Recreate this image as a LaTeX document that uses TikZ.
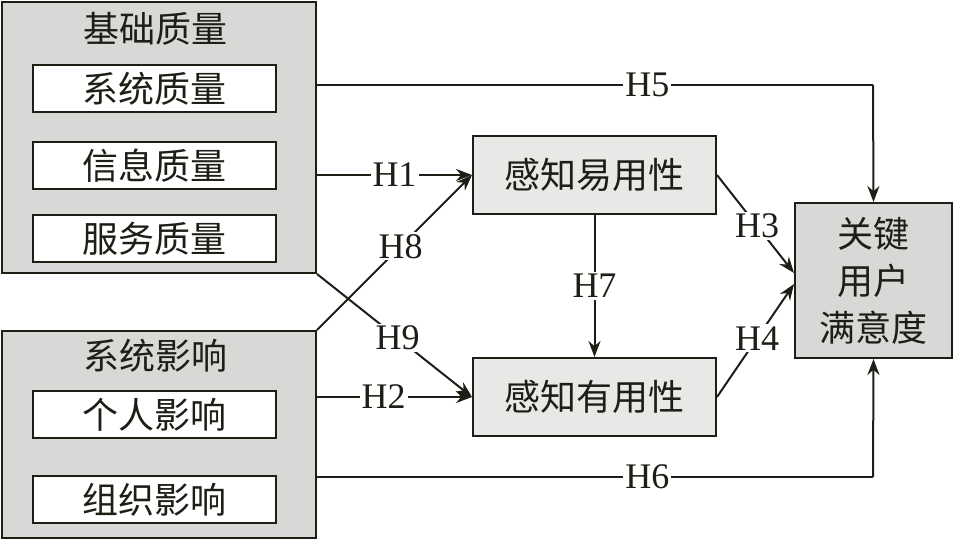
\documentclass[tikz,border=0pt]{standalone}
\usepackage{fontspec}
\setmainfont{Liberation Serif}
\newfontfamily\cjk{Noto Sans CJK SC}
\usetikzlibrary{arrows.meta}
\definecolor{grayA}{RGB}{216,216,214}
\definecolor{grayB}{RGB}{232,232,230}
\definecolor{linec}{RGB}{30,30,22}
\begin{document}
\begin{tikzpicture}[x=1pt,y=-1pt,
  outer/.style={draw=linec, line width=2pt, fill=grayA, minimum width=314pt, inner sep=0pt},
  inner/.style={draw=linec, line width=2pt, fill=white, minimum width=243pt, minimum height=47pt, inner sep=0pt, font=\fontsize{36}{40}\selectfont\cjk, text=linec},
  ttl/.style={inner sep=0pt, font=\fontsize{36}{40}\selectfont\cjk, text=linec},
  mid/.style={draw=linec, line width=2pt, fill=grayB, minimum width=243pt, minimum height=78pt, inner sep=0pt, font=\fontsize{36}{40}\selectfont\cjk, text=linec},
  hl/.style={fill=white, inner sep=2pt, font=\fontsize{36}{40}\selectfont, text=linec},
  conn/.style={draw=linec, line width=2pt},
  arr/.style={conn, -{Stealth[length=16pt,width=12pt]}}
]
\useasboundingbox (0,0) rectangle (953,541);
% left groups
\node[outer, minimum height=271pt] (b1) at (159,137.5) {};
\node[ttl] (t1) at (155,29) {基础质量};
\node[inner] (s1) at (154.5,88.5) {系统质量};
\node[inner] (s2) at (154.5,165.5) {信息质量};
\node[inner] (s3) at (154.5,238.5) {服务质量};
\node[outer, minimum height=207pt] (b2) at (159,434.5) {};
\node[ttl] (t2) at (155,356) {系统影响};
\node[inner] (s4) at (154.5,414.5) {个人影响};
\node[inner] (s5) at (154.5,499.5) {组织影响};
% middle
\node[mid] (pe) at (594.5,175) {感知易用性};
\node[mid] (pu) at (594.5,397) {感知有用性};
% target
\node[draw=linec, line width=2pt, fill=grayA, minimum width=157pt, minimum height=155pt, inner sep=0pt,
      align=center, font=\fontsize{36}{47}\selectfont\cjk, text=linec] (ks) at (873.5,280.5) {关键\\用户\\满意度};
% coordinates
\coordinate (h5s) at (316,85);
\coordinate (h5c) at (873,85);
\coordinate (h6s) at (316,477);
\coordinate (h6c) at (873,477);
\coordinate (h3e) at (794,273);
\coordinate (h4e) at (794,284);
% connectors
\draw[conn] (h5s) -- node[hl, pos=0.595] (l5) {H5} (h5c);
\draw[arr] (h5c) -- (ks.north);
\draw[conn] (h6s) -- node[hl, pos=0.595] (l6) {H6} (h6c);
\draw[arr] (h6c) -- (ks.south);
\draw[arr] (b1.east |- pe.west) -- node[hl, pos=0.5] (l1) {H1} (pe.west);
\draw[arr] (b2.east |- pu.west) -- node[hl, pos=0.43] (l2) {H2} (pu.west);
\draw[arr] (b2.north east) -- node[hl, pos=0.54] (l8) {H8} (pe.west);
\draw[arr] (b1.south east) -- node[hl, pos=0.52] (l9) {H9} (pu.west);
\draw[arr] (pe.south) -- node[hl, pos=0.5] (l7) {H7} (pu.north);
\draw[arr] (pe.east) -- node[hl, pos=0.52] (l3) {H3} (h3e);
\draw[arr] (pu.east) -- node[hl, pos=0.52] (l4) {H4} (h4e);
\end{tikzpicture}
\end{document}
